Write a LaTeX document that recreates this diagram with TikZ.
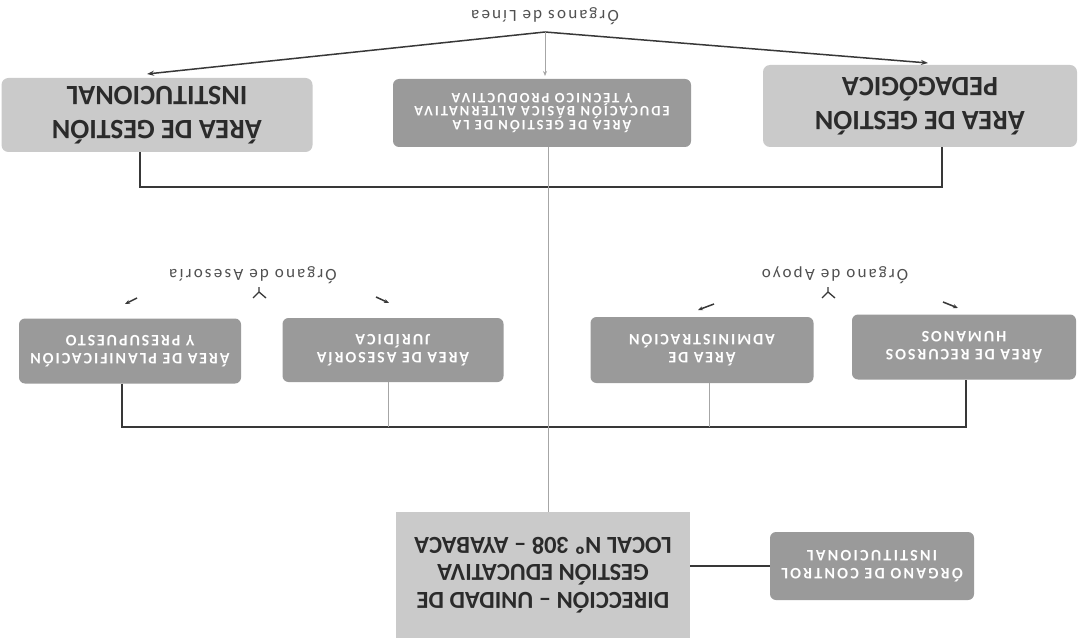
\documentclass[tikz,border=0pt]{standalone}
\usepackage{fontspec}
\setmainfont{Carlito}
\usetikzlibrary{arrows.meta}
\definecolor{lightbox}{HTML}{CACACA}
\definecolor{darkbox}{HTML}{9A9A9A}
\definecolor{txtdark}{HTML}{2B2B2B}
\definecolor{linec}{HTML}{383838}
\definecolor{lblc}{HTML}{505050}
\begin{document}
\begin{tikzpicture}[x=1pt,y=-1pt,
  every node/.style={rotate=180, inner sep=0pt, align=center},
  lightnode/.style={rounded corners=7pt, fill=lightbox, text=txtdark,
    font=\fontsize{28}{34}\selectfont\bfseries},
  altnode/.style={rounded corners=6pt, fill=darkbox, text=white,
    font=\fontsize{14.5}{13.5}\selectfont\bfseries\addfontfeature{LetterSpace=14}},
  midnode/.style={rounded corners=6pt, fill=darkbox, text=white,
    font=\fontsize{16}{18}\selectfont\bfseries\addfontfeature{LetterSpace=12}},
  dirnode/.style={fill=lightbox, text=txtdark,
    font=\fontsize{24.5}{27.5}\selectfont\bfseries},
  ctrlnode/.style={rounded corners=6pt, fill=darkbox, text=white,
    font=\fontsize{16}{18}\selectfont\bfseries\addfontfeature{LetterSpace=14}},
  lbl/.style={text=lblc, font=\fontsize{17}{18}\selectfont\addfontfeature{LetterSpace=13}},
  bus/.style={draw=linec, line width=1.8pt},
  thin/.style={draw=gray!70, line width=1pt},
  arr/.style={draw=linec, line width=1.5pt, -{Stealth[length=7pt,width=5pt]}},
  small/.style={draw=linec, line width=1.5pt, -{Stealth[length=5pt,width=4pt]}},
  fork/.style={draw=linec, line width=1.3pt}
]
\useasboundingbox[fill=white] (0,0) rectangle (1078,644);

% top row
\node[lightnode, minimum width=311pt, minimum height=74pt] (instit) at (157,115) {ÁREA DE GESTIÓN\\INSTITUCIONAL};
\node[altnode, minimum width=298pt, minimum height=68pt] (alter) at (542,113) {ÁREA DE GESTIÓN DE LA\\EDUCACIÓN BÁSICA ALTERNATIVA\\Y TÉCNICO PRODUCTIVA};
\node[lightnode, minimum width=314pt, minimum height=82pt] (pedag) at (920,106) {ÁREA DE GESTIÓN\\PEDAGÓGICA};
\node[lbl] (linea) at (545,16) {Órganos de Línea};

\coordinate (peak) at (545,32);
\coordinate (tl) at (147,74);
\coordinate (tc) at (545,76);
\coordinate (tr) at (928,63);
\draw[arr] (peak) -- (tl);
\draw[arr] (peak) -- (tr);
\draw[thin, -{Stealth[length=5pt,width=4pt]}] (peak) -- (tc);

\coordinate (b1L) at (140,187);
\coordinate (b1R) at (942,187);
\draw[bus] (instit.north -| b1L) |- (b1R) -- (pedag.north -| b1R);

% middle row
\node[midnode, minimum width=222pt, minimum height=65pt] (planif) at (130,351) {ÁREA DE PLANIFICACIÓN\\Y PRESUPUESTO};
\node[midnode, minimum width=221pt, minimum height=64pt] (asesor) at (393,350) {ÁREA DE ASESORÍA\\JURÍDICA};
\node[midnode, minimum width=223pt, minimum height=66pt] (admin) at (702,350) {ÁREA DE\\ADMINISTRACIÓN};
\node[midnode, minimum width=224pt, minimum height=65pt] (rrhh) at (964,347) {ÁREA DE RECURSOS\\HUMANOS};

\node[lbl] (aseslbl) at (253,275) {Órgano de Asesoría};
\node[lbl] (apoylbl) at (835,275) {Órgano de Apoyo};

% forks
\coordinate (fa) at (259,292);
\coordinate (fa1) at (259,287);
\coordinate (fa2) at (253,298);
\coordinate (fa3) at (266,298);
\draw[fork] (fa1) -- (fa) (fa2) -- (fa) -- (fa3);
\coordinate (fb) at (828,292);
\coordinate (fb1) at (828,287);
\coordinate (fb2) at (822,298);
\coordinate (fb3) at (835,298);
\draw[fork] (fb1) -- (fb) (fb2) -- (fb) -- (fb3);

% small arrows
\coordinate (s1a) at (137,298); \coordinate (s1b) at (125,304);
\coordinate (s2a) at (376,297); \coordinate (s2b) at (389,303);
\coordinate (s3a) at (714,304); \coordinate (s3b) at (698,310);
\coordinate (s4a) at (943,302); \coordinate (s4b) at (958,308);
\draw[small] (s1a) -- (s1b);
\draw[small] (s2a) -- (s2b);
\draw[small] (s3a) -- (s3b);
\draw[small] (s4a) -- (s4b);

\coordinate (m1) at (122,427);
\coordinate (m2) at (388,427);
\coordinate (m3) at (709,427);
\coordinate (m4) at (966,427);
\draw[bus] (planif.north -| m1) |- (m4) -- (rrhh.north -| m4);
\draw[thin] (asesor.north -| m2) -- (m2);
\draw[thin] (admin.north -| m3) -- (m3);

% bottom
\node[dirnode, minimum width=294pt, minimum height=126pt] (dir) at (543,575) {DIRECCIÓN – UNIDAD DE\\GESTIÓN EDUCATIVA\\LOCAL Nº 308 – AYABACA};
\node[ctrlnode, minimum width=204pt, minimum height=68pt] (control) at (872,566) {ÓRGANO DE CONTROL\\INSTITUCIONAL};
\draw[bus] (control.east) -- (control.east -| dir.west);

\coordinate (cx) at (548,0);
\draw[thin] (alter.north -| cx) -- (dir.south -| cx);
\end{tikzpicture}
\end{document}
